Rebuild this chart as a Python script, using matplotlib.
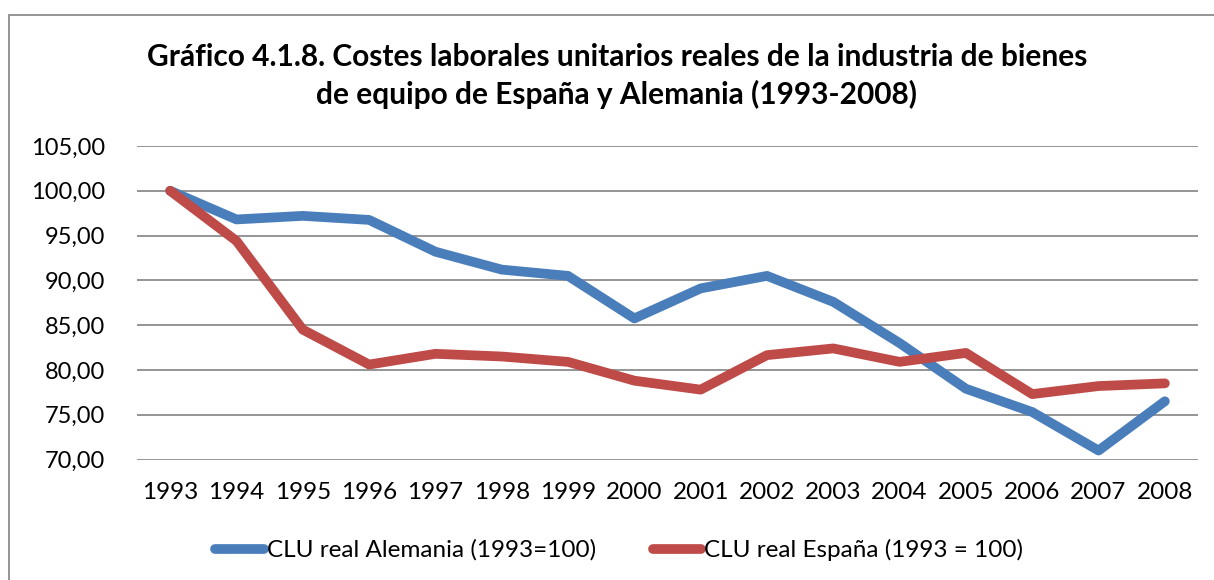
import matplotlib.pyplot as plt
from matplotlib.patches import Rectangle

years = ['1993', '1994', '1995', '1996', '1997', '1998', '1999', '2000',
         '2001', '2002', '2003', '2004', '2005', '2006', '2007', '2008']
alemania = [100.0, 96.8, 97.2, 96.75, 93.2, 91.2, 90.5, 85.75,
            89.1, 90.5, 87.6, 83.0, 77.9, 75.3, 71.0, 76.5]
espana = [100.0, 94.4, 84.5, 80.6, 81.8, 81.5, 80.9, 78.8,
          77.8, 81.65, 82.4, 80.9, 81.9, 77.3, 78.2, 78.5]
yticks = [70, 75, 80, 85, 90, 95, 100, 105]

title = ('Gráfico 4.1.8. Costes laborales unitarios reales de la industria de bienes\n'
         'de equipo de España y Alemania (1993-2008)')

plt.rcParams['font.family'] = ['Lato', 'DejaVu Sans']

fig = plt.figure(figsize=(12.14, 5.8), dpi=100)
ax = fig.add_axes([137 / 1214, 1 - 459.5 / 580, (1198 - 137) / 1214, (459.5 - 146) / 580])

x = list(range(len(years)))
ax.plot(x, alemania, color='#4A7EBB', lw=7, solid_capstyle='round',
        solid_joinstyle='round', label='CLU real Alemania (1993=100)')
ax.plot(x, espana, color='#BE4B48', lw=7, solid_capstyle='round',
        solid_joinstyle='round', label='CLU real España (1993 = 100)')

ax.set_xlim(-0.5, len(years) - 0.5)
ax.set_ylim(70, 105)
ax.set_yticks(yticks)
ax.set_yticklabels([f'{v:.2f}'.replace('.', ',') for v in yticks])
ax.set_xticks(x)
ax.set_xticklabels(years)
ax.tick_params(axis='y', length=0, pad=23, labelsize=17)
ax.tick_params(axis='x', length=0, pad=16, labelsize=17.5)
ax.grid(axis='y', color='#8c8c8c', lw=1.3)
ax.set_axisbelow(True)
for s in ax.spines.values():
    s.set_visible(False)

fig.text(0.508, 1 - 76 / 580, title, ha='center', va='center',
         fontsize=21.5, fontweight='bold', linespacing=1.4)

fig.legend(loc='center', bbox_to_anchor=(0.51, 1 - 550 / 580), ncol=2,
           frameon=False, fontsize=17.5, handlelength=2.0, handletextpad=0.1,
           columnspacing=2.35)

# chart area border (right and bottom edges fall outside the picture)
fig.patches.append(Rectangle((8.5 / 1214, -0.1), 1.1, 1.1 - 15 / 580,
                             transform=fig.transFigure, fill=False,
                             edgecolor='#8c8c8c', lw=1.3))

fig.savefig('out.png', dpi=100)
